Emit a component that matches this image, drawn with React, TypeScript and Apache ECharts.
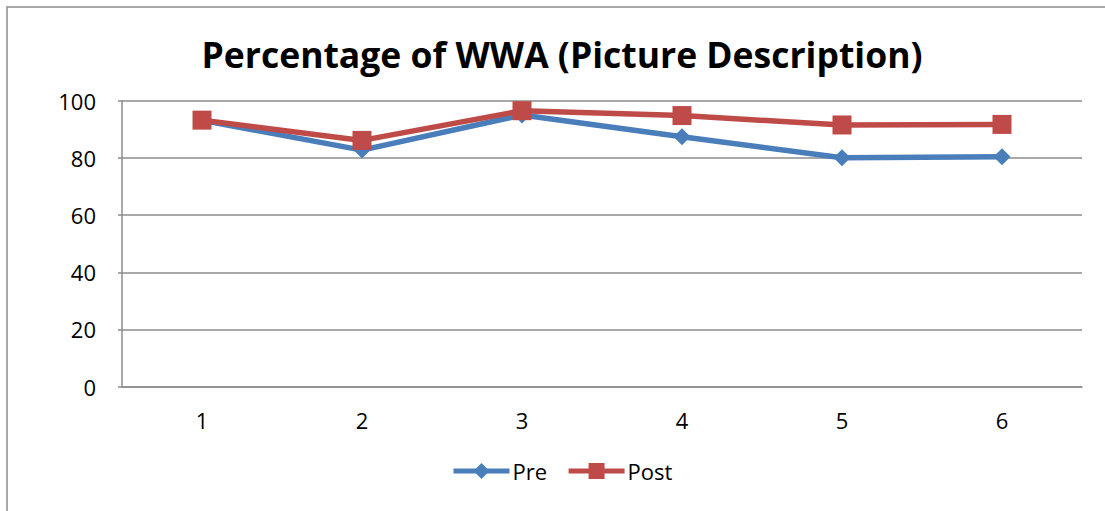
import React, { useEffect, useRef } from "react";
import * as echarts from "echarts";

const categories = ["1", "2", "3", "4", "5", "6"];
const preValues = [93.2, 82.8, 95.1, 87.5, 80.1, 80.5];
const postValues = [93.3, 86.2, 96.6, 94.9, 91.6, 91.8];
const yTicks = [0, 20, 40, 60, 80, 100];
const titleText = "Percentage of WWA (Picture Description)";

export default function App() {
  const ref = useRef<HTMLDivElement>(null);
  useEffect(() => {
    if (!ref.current) return;
    const chart = echarts.init(ref.current, null, { renderer: "svg" });
    const font = "Open Sans";
    chart.setOption({
      animation: false,
      backgroundColor: "#ffffff",
      textStyle: { fontFamily: font },
      title: {
        text: titleText,
        left: 557,
        textAlign: "center",
        top: 31,
        textStyle: { fontFamily: font, fontWeight: "bold", fontSize: 35.5, color: "#000" },
      },
      graphic: [
        {
          type: "rect",
          shape: { x: 7, y: 7, width: 1110, height: 520 },
          style: { fill: "none", stroke: "#8c8c8c", lineWidth: 1.5 },
          silent: true,
        },
      ],
      legend: {
        bottom: 24,
        left: 446,
        itemWidth: 56,
        itemHeight: 20,
        itemGap: 19,
        lineStyle: { width: 5 },
        textStyle: { fontFamily: font, fontSize: 22, color: "#000", padding: [0, 0, 0, -2] },
        data: ["Pre", "Post"],
      },
      grid: { left: 122, right: 23, top: 101, bottom: 124.5, containLabel: false },
      xAxis: {
        type: "category",
        data: categories,
        boundaryGap: true,
        axisLine: { show: true, lineStyle: { color: "#8c8c8c", width: 1.5 } },
        axisTick: { show: false },
        axisLabel: { fontFamily: font, fontSize: 22, color: "#000", margin: 22 },
      },
      yAxis: {
        type: "value",
        min: yTicks[0],
        max: yTicks[yTicks.length - 1],
        interval: 20,
        axisLine: { show: true, lineStyle: { color: "#8c8c8c", width: 1.5 } },
        axisTick: { show: true, length: 4, lineStyle: { color: "#8c8c8c", width: 1.5 } },
        splitLine: { show: true, lineStyle: { color: "#8c8c8c", width: 1.5 } },
        axisLabel: { fontFamily: font, fontSize: 22, color: "#000", margin: 26 },
      },
      series: [
        {
          name: "Pre",
          type: "line",
          data: preValues,
          symbol: "diamond",
          symbolSize: 17,
          color: "#4A7EBB",
          lineStyle: { width: 5.5, color: "#4A7EBB" },
          itemStyle: { color: "#4A7EBB" },
        },
        {
          name: "Post",
          type: "line",
          data: postValues,
          symbol: "rect",
          symbolSize: 19,
          color: "#BE4B48",
          lineStyle: { width: 5.5, color: "#BE4B48" },
          itemStyle: { color: "#BE4B48" },
        },
      ],
    });
    return () => chart.dispose();
  }, []);
  return (
    <div
      ref={ref}
      style={{ position: "fixed", left: 0, top: 0, width: 1105, height: 511 }}
    />
  );
}
